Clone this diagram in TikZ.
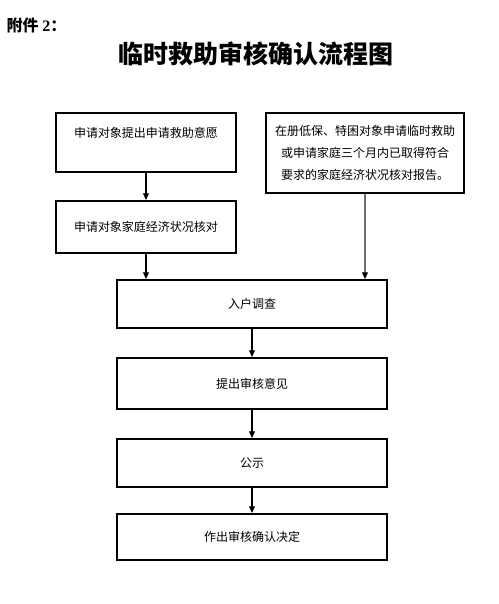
\documentclass[tikz,border=0pt]{standalone}
\usepackage{fontspec}
\usepackage{tikz}
\usetikzlibrary{arrows.meta}
\newfontfamily\cjk{Noto Sans CJK SC}
\newfontfamily\latinserif{Liberation Serif}
\definecolor{linegray}{RGB}{110,110,110}

\begin{document}
\begin{tikzpicture}[x=0.75pt, y=-0.75pt,
    flowbox/.style={draw, line width=1.6pt, align=center, inner sep=0pt,
      font=\cjk\fontsize{9pt}{16.5pt}\selectfont},
    flowarrow/.style={-{Triangle[length=5pt,width=4.5pt]}, line width=0.8pt}]
  \useasboundingbox (0,0) rectangle (499,604);
  % Heading
  \node[font=\cjk\bfseries\fontsize{12pt}{14pt}\selectfont, anchor=west]
    (annex) at (2,25) {附件 {\latinserif\bfseries 2}：};
  \node[font=\cjk\bfseries\fontsize{18.75pt}{22pt}\selectfont]
    (title) at (255.5,54) {临时救助审核确认流程图};
  % Upper boxes (two entry routes)
  \node[flowbox, minimum width=135pt, minimum height=44.25pt,
    text height=8pt, text depth=16pt] (ask) at (146,142.5) {申请对象提出申请救助意愿};
  \node[flowbox, minimum width=135pt, minimum height=39pt]
    (check) at (146,227) {申请对象家庭经济状况核对};
  \node[flowbox, minimum width=148.5pt, minimum height=60pt]
    (report) at (365,153)
    {在册低保、特困对象申请临时救助\\或申请家庭三个月内已取得符合\\要求的家庭经济状况核对报告。};
  % Main column
  \node[flowbox, minimum width=202.5pt, minimum height=36pt]
    (visit) at (252,304) {入户调查};
  \node[flowbox, minimum width=202.5pt, minimum height=38.25pt]
    (opinion) at (252,383.5) {提出审核意见};
  \node[flowbox, minimum width=202.5pt, minimum height=36pt]
    (notice) at (252,463) {公示};
  \node[flowbox, minimum width=202.5pt, minimum height=34.5pt]
    (decision) at (252,537) {作出审核确认决定};
  % Connectors
  \draw[flowarrow] (ask.south) -- (check.north);
  \draw[flowarrow] (check.south) -- (check.south |- visit.north);
  \draw[-{Triangle[length=5pt,width=4.5pt,color=black]}, line width=0.8pt, linegray]
    (report.south) -- (report.south |- visit.north);
  \foreach \from/\to in {visit/opinion, opinion/notice, notice/decision}
    \draw[flowarrow] (\from.south) -- (\to.north);
\end{tikzpicture}
\end{document}
